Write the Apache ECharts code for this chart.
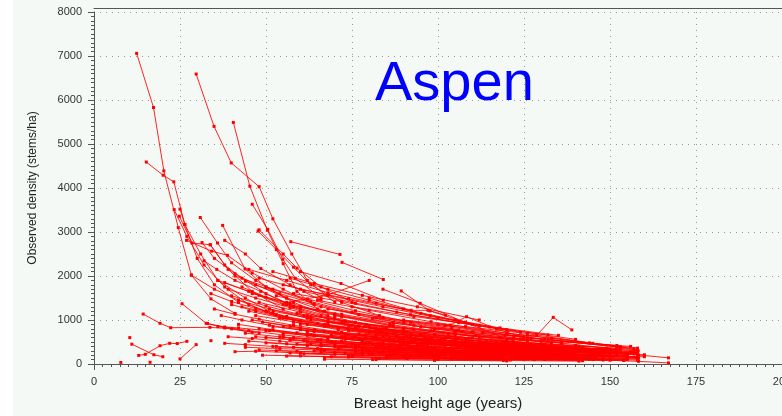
<!DOCTYPE html>
<html>
<head>
<meta charset="utf-8">
<title>Aspen</title>
<script src="https://cdn.jsdelivr.net/npm/echarts@6/dist/echarts.min.js"></script>
<style>
  html, body { margin: 0; padding: 0; background: #f4f9f5; }
  #chart { width: 782px; height: 416px; }
</style>
</head>
<body>
<div id="chart"></div>
<script>
// Remeasured aspen stands: each stand is a list of [breast height age (years), density (stems/ha)]

// Young, very dense stands thinning steeply
const steepStands = [
  [[12.4,7060],[17.3,5830],[20.3,4390],[24.5,3100],[28.3,2020],[34,1480],[41,1150]],
  [[15.2,4590],[20.1,4290],[23.2,4140],[26.4,3170],[30,2400],[35,1800],[42,1400]],
  [[29.7,6590],[34.9,5400],[39.9,4570],[48,4030],[52,3300],[57.5,2500],[62,1900],[70,1400]],
  [[40.5,5490],[45.3,4040],[50.4,3040],[55,2280],[59,1650],[65,1250]],
  [[46,3630],[50.5,3060],[54.9,2380],[58.5,1950],[66,1500]],
  [[25.0,3520],[26.4,3170],[31,2500],[36,1900],[44,1500],[52,1150],[62,900]],
  [[26.9,2810],[34.2,2565],[38.8,2470],[46,2070],[55,1700],[64,1350]],
  [[28.3,2020],[35,1700],[42,1450],[50,1200],[60,980]],
  [[30.9,3330],[35.9,2750],[40,2300],[47,1900],[56,1500]],
  [[37.4,3150],[43.9,2160],[50,1750],[58,1400],[68,1100]],
  [[38,2810],[44,2500],[48.5,2170],[57,1800],[66,1450]],
  [[33.8,2710],[38,2250],[43,1950],[50,1600],[60,1250]],
  [[32,2345],[35.7,2150],[41,1900],[48.5,1650],[58,1300]],
  [[31.4,2760],[35,2400],[41,2050],[47,1800],[56,1500],[67,1200]],
  [[47.7,3020],[53,2600],[58,2200],[63,1800],[72,1400],[83,1100]],
  [[48,3050],[55,2500],[59,2180],[66,1750],[76,1380]],
  [[23.3,3510],[27,2900],[32,2250],[38,1750],[45,1350],[54,1050]],
  [[24.8,3360],[28.5,2750],[33.8,2710],[39,2150],[46,1650],[55,1250]]
];

// Stands starting between roughly 1500 and 2800 stems/ha
const upperStands = [
  [[57.2,2780],[71.5,2490]],
  [[72.1,2310],[84.1,1920]],
  [[56,1400],[68.1,1570],[80,1900]],
  [[60,2100],[71.8,1830],[84.1,1450]],
  [[89.3,1660],[97.7,1205],[108,950]],
  [[80,1500],[92.2,1220],[97.1,1220],[102.2,1110]],
  [[84,1700],[94.8,1380],[108,940],[121.9,510]],
  [[96,700],[103.5,885],[108.3,1075],[117,795],[125,600]],
  [[105,750],[119.5,650],[128.7,650],[133.5,1060],[138.9,775]],
  [[100,900],[120,700],[133,590],[152.9,395],[158.2,300]],
  [[45,2150],[56,1900],[68,1620],[82,1380],[97.7,1100],[110,900]],
  [[48,1950],[60,1700],[74,1480],[90,1250],[105,1000],[120,780]],
  [[52,2100],[64,1830],[78,1560],[94,1300],[112,1000]],
  [[55,1800],[68,1560],[84,1300],[100,1050],[118,820],[135,650]],
  [[58,1600],[72,1420],[88,1180],[106,940],[124,720]],
  [[90,1000],[108,850],[126,690],[145,470],[158,360]],
  [[95,850],[113,720],[132,560],[152,420]],
  [[36,1900],[45,1650],[55,1350],[66,1100],[80,850],[95,650]],
  [[41,2000],[52,1700],[63,1420],[75,1180],[90,950],[106,760]],
  [[44,1880],[54,1600],[64,1370],[77,1120],[93,880]],
  [[50,1750],[62,1480],[76,1210],[92,950],[110,730]],
  [[57,1950],[68,1700],[80,1450],[95,1150],[112,880]],
  [[43,1750],[50,1520],[60,1290],[72,1070],[87,860]]
];

// The main body of stands below about 1600 stems/ha
const cloudStands = [
  [[38,1850],[48,1560],[58,1300],[70,1050],[85,820]],
  [[39,1700],[47,1500],[57,1280],[68,1020],[82,780],[98,600]],
  [[40,1550],[50,1320],[61,1100],[74,880],[90,700]],
  [[42,1450],[51,1250],[62,1040],[76,830],[92,640]],
  [[43,1300],[53,1120],[65,920],[80,720],[97,560],[115,430]],
  [[45,1200],[55,1040],[67,860],[82,680],[100,520]],
  [[46,1600],[57,1380],[70,1120],[86,880],[103,690],[120,540]],
  [[47,1100],[58,960],[71,780],[88,610],[106,470]],
  [[48,1400],[60,1180],[73,960],[90,740],[108,580]],
  [[49,950],[60,820],[74,660],[92,500],[110,380],[128,290]],
  [[51,1250],[63,1060],[77,860],[95,660],[114,500]],
  [[52,850],[64,740],[79,600],[97,460],[116,350]],
  [[53,1550],[66,1300],[81,1040],[99,800],[118,600],[136,470]],
  [[54,1050],[67,900],[83,720],[102,550],[122,420]],
  [[55,700],[68,600],[84,480],[104,370],[124,280]],
  [[56,1350],[70,1140],[86,900],[105,690],[126,520]],
  [[58,600],[72,520],[89,420],[110,320],[132,240]],
  [[59,1150],[73,980],[90,780],[110,590],[131,440]],
  [[60,900],[74,780],[91,620],[112,470],[134,350]],
  [[61,1650],[75,1400],[92,1120],[112,860],[132,660]],
  [[62,500],[76,430],[94,350],[116,270],[140,200]],
  [[63,1000],[77,860],[95,690],[117,520],[140,390]],
  [[64,780],[79,660],[97,530],[120,400],[143,300]],
  [[65,1450],[80,1220],[98,960],[120,700],[144,480]],
  [[66,420],[82,360],[101,290],[124,220],[150,160]],
  [[67,880],[83,750],[102,600],[125,450],[150,330]],
  [[68,1250],[84,1060],[104,830],[127,590],[152,400]],
  [[69,650],[86,550],[106,440],[130,330],[155,240]],
  [[70,1100],[87,930],[107,740],[131,560],[157,350]],
  [[71,350],[88,300],[109,240],[134,180]],
  [[72,960],[90,810],[111,640],[136,480]],
  [[73,560],[91,470],[112,380],[138,280]],
  [[74,760],[92,640],[114,510],[140,380]],
  [[75,1300],[93,1080],[115,840],[140,560]],
  [[76,280],[95,240],[118,190],[144,140]],
  [[77,680],[96,570],[119,450],[146,330]],
  [[78,480],[97,400],[121,320],[148,240]],
  [[79,900],[98,760],[122,600],[149,360]],
  [[80,230],[100,190],[124,150],[150,110]],
  [[81,600],[101,500],[125,400],[152,300]],
  [[82,1050],[102,880],[126,600],[153,380]],
  [[83,380],[104,320],[128,250],[155,190]],
  [[84,800],[105,670],[130,530],[156,400]],
  [[85,180],[106,150],[131,120],[158,90]],
  [[86,520],[107,440],[132,350],[158,260]],
  [[34,1600],[40,1420],[47,1260],[56,1080],[68,900],[84,720]],
  [[35,1250],[41,1130],[48,1020],[58,880],[72,720]],
  [[37,1100],[43,1000],[51,880],[62,750],[76,620]],
  [[40,1350],[47,1200],[56,1040],[68,870],[83,710]],
  [[60,1300],[72,1130],[87,930],[105,740],[124,570]],
  [[52,1200],[62,1050],[75,880],[90,710],[108,560]],
  [[68,950],[82,820],[99,670],[119,520],[141,400]],
  [[76,860],[91,730],[109,590],[130,460],[152,350]],
  [[85,700],[101,590],[120,480],[142,370]],
  [[103,620],[120,520],[140,420],[158,330]],
  [[112,490],[130,410],[150,330]],
  [[120,420],[138,350],[157,280]],
  [[58,950],[71,830],[87,690],[105,560],[125,440]],
  [[62,1100],[76,950],[93,780],[112,620],[133,480]],
  [[48,800],[59,710],[73,600],[90,490],[109,390]],
  [[47,620],[57,560],[70,480],[86,400],[104,330]]
];

// Lower-density stands near the bottom of the range
const lowStands = [
  [[41,280],[47,290],[60,250],[78,210],[100,170]],
  [[38,470],[44,440],[52,400],[66,340],[84,280]],
  [[36,850],[42,820],[50,760],[62,650],[78,530]],
  [[33,920],[38,840],[45,760],[55,660],[68,560]],
  [[39,620],[46,580],[54,520],[66,450],[82,380]],
  [[42,900],[52,780],[64,650],[78,520],[95,410]],
  [[44,700],[55,610],[68,510],[84,410],[102,320]],
  [[45,520],[56,460],[70,390],[86,320],[105,250]],
  [[46,1000],[57,860],[70,720],[86,580],[104,450]],
  [[48,320],[59,290],[73,250],[90,210],[110,170]],
  [[50,600],[61,530],[75,450],[92,370],[112,290]],
  [[53,400],[65,350],[80,300],[98,240],[118,190]],
  [[55,850],[67,740],[82,610],[100,490],[120,380]],
  [[57,250],[70,220],[86,190],[105,150],[126,120]],
  [[59,450],[72,390],[88,330],[107,270],[128,210]],
  [[62,700],[75,600],[91,500],[110,400],[131,310]],
  [[64,300],[78,260],[95,220],[115,180],[137,140]],
  [[65,550],[79,470],[96,390],[116,310],[138,240]],
  [[67,150],[82,130],[100,110],[121,90]],
  [[70,420],[85,360],[103,300],[124,240],[147,190]],
  [[72,620],[87,530],[105,440],[126,350],[148,270]],
  [[74,200],[90,170],[109,140],[131,110],[154,80]],
  [[78,340],[94,290],[113,240],[135,190],[158,150]],
  [[80,480],[96,410],[115,340],[137,270],[160,210]],
  [[83,130],[100,115],[120,95],[142,75]],
  [[88,260],[104,220],[123,180],[145,140]],
  [[90,560],[106,470],[125,380],[147,300]],
  [[92,360],[108,300],[128,250],[150,200]],
  [[95,160],[112,140],[132,120],[155,100]],
  [[98,450],[115,380],[135,310],[157,250]],
  [[100,280],[117,240],[137,200],[158,160]],
  [[105,210],[123,180],[143,150]],
  [[108,380],[126,320],[146,260]],
  [[110,120],[128,105],[148,90]],
  [[115,300],[132,250],[152,210]],
  [[118,180],[136,150],[155,125]],
  [[123,250],[140,210],[158,170]],
  [[120,420],[140,300],[158.3,205],[167,140]],
  [[115,260],[145,100],[158.3,60],[167,25]],
  [[105,500],[130,380],[150,270],[158.3,130]],
  [[50,480],[62,420],[76,360],[93,300],[112,240],[132,190]],
  [[51,760],[63,660],[77,560],[94,460],[113,370]],
  [[53,300],[66,270],[81,230],[99,190],[119,150]],
  [[54,620],[66,550],[81,460],[99,380],[118,300],[138,240]],
  [[56,180],[69,165],[85,145],[104,120],[125,100]],
  [[57,540],[70,470],[86,400],[104,330],[124,260],[145,210]],
  [[58,380],[71,340],[87,290],[106,240],[127,200]],
  [[60,780],[73,680],[89,570],[108,460],[129,370],[150,290]],
  [[61,230],[75,200],[92,175],[111,145],[133,120]],
  [[63,460],[77,400],[94,340],[114,280],[136,220]],
  [[64,640],[78,560],[95,470],[115,390],[137,310],[157,250]],
  [[66,330],[80,290],[97,250],[117,210],[139,170]],
  [[67,110],[81,100],[99,85],[120,70]],
  [[69,500],[84,440],[102,370],[122,300],[144,240]],
  [[70,260],[86,230],[104,195],[125,160],[148,130]],
  [[72,720],[88,620],[107,510],[128,410],[150,330]],
  [[73,400],[89,350],[108,290],[129,240],[152,190]],
  [[75,170],[91,150],[110,130],[131,105],[154,85]],
  [[77,580],[93,500],[112,420],[134,340],[156,270]],
  [[79,300],[95,260],[114,220],[136,180],[158,145]],
  [[81,440],[97,380],[117,320],[139,260],[158,215]],
  [[82,100],[99,90],[119,80],[141,65]],
  [[84,640],[100,550],[120,450],[142,360],[158,300]],
  [[86,340],[102,300],[122,250],[144,200]],
  [[87,210],[104,185],[124,155],[146,125]],
  [[89,470],[106,410],[126,340],[148,280]],
  [[91,130],[108,115],[128,100],[150,85]],
  [[93,560],[110,480],[130,400],[152,320]],
  [[96,300],[113,260],[133,220],[155,180]],
  [[99,390],[116,340],[136,280],[157,230]],
  [[102,200],[119,175],[139,150],[158,125]],
  [[104,520],[121,450],[141,370],[158,310]],
  [[107,140],[124,125],[144,105]],
  [[110,340],[127,295],[147,245]],
  [[113,240],[131,210],[151,175]],
  [[117,450],[134,390],[153,320]],
  [[121,150],[138,130],[158,110]],
  [[125,320],[142,280],[158,240]],
  [[128,220],[145,190],[160,165]],
  [[44,380],[54,350],[67,310],[83,260],[101,210]],
  [[49,200],[60,185],[74,160],[91,135],[110,110]]
];

// Stands first measured at young breast height ages
const youngStands = [
  [[14.3,1135],[19.2,925],[22.3,825],[33.7,833],[40,800],[48,700]],
  [[25.6,1370],[32.6,925],[38,820],[46,720]],
  [[11,450],[17.4,210],[20,165]],
  [[13,195],[14.9,220],[19.2,415],[22,470],[24.2,465],[27,515]],
  [[25,115],[29.7,440]],
  [[10.4,600]],
  [[7.8,35]],
  [[16.3,40]],
  [[34,530]]
];

const xTicks = { min: 0, max: 200, step: 25 };
const yTicks = { min: 0, max: 8000, step: 1000 };

const standGroups = [steepStands, upperStands, cloudStands, lowStands, youngStands];
const series = [];
standGroups.forEach(group => {
  group.forEach(stand => {
    series.push({
      type: 'line',
      data: stand,
      symbol: 'rect',
      symbolSize: 3,
      showSymbol: true,
      silent: true,
      lineStyle: { color: '#ff0000', width: 1, opacity: 0.85 },
      itemStyle: { color: '#ff0000' },
      emphasis: { disabled: true }
    });
  });
});

const axisColor = '#555555';
const labelFont = { fontFamily: 'Liberation Sans, Arial, sans-serif', fontSize: 11, color: '#333333' };

const chart = echarts.init(document.getElementById('chart'), null, { renderer: 'canvas' });
chart.setOption({
  animation: false,
  backgroundColor: '#f4f9f5',
  title: {
    text: 'Aspen',
    left: 370,
    top: 52,
    textStyle: { fontFamily: 'Liberation Sans, Arial, sans-serif', fontSize: 56, fontWeight: 'normal', color: '#0000ff' }
  },
  graphic: [{
    type: 'rect',
    left: 0, top: 0,
    shape: { width: 13, height: 416 },
    style: { fill: '#ffffff' },
    silent: true
  }],
  grid: { left: 94, right: 0, top: 12, bottom: 52, containLabel: false, outerBoundsMode: 'none' },
  xAxis: [{
    type: 'value',
    min: xTicks.min, max: xTicks.max, interval: xTicks.step,
    offset: 4,
    name: 'Breast height age (years)',
    nameLocation: 'middle',
    nameGap: 28,
    nameTextStyle: { fontFamily: 'Liberation Sans, Arial, sans-serif', fontSize: 15, color: '#222222' },
    axisLine: { show: true, lineStyle: { color: axisColor, width: 1 } },
    axisTick: { show: true, length: 6, lineStyle: { color: axisColor } },
    minorTick: { show: true, splitNumber: 10, length: 3, lineStyle: { color: axisColor } },
    axisLabel: Object.assign({ margin: 8, showMaxLabel: true, hideOverlap: false }, labelFont),
    splitLine: { show: true, lineStyle: { color: '#9a9a9a', type: [1, 5], width: 1 } }
  }, {
    type: 'value',
    position: 'top',
    min: xTicks.min, max: xTicks.max,
    offset: 4,
    axisLine: { show: true, lineStyle: { color: axisColor, width: 1 } },
    axisTick: { show: false },
    axisLabel: { show: false },
    splitLine: { show: false }
  }],
  yAxis: {
    type: 'value',
    min: yTicks.min, max: yTicks.max, interval: yTicks.step,
    offset: 4,
    name: 'Observed density (stems/ha)',
    nameLocation: 'middle',
    nameGap: 51,
    nameTextStyle: { fontFamily: 'Liberation Sans, Arial, sans-serif', fontSize: 12, color: '#222222' },
    axisLine: { show: true, lineStyle: { color: axisColor, width: 1 } },
    axisTick: { show: true, length: 6, lineStyle: { color: axisColor } },
    minorTick: { show: true, splitNumber: 10, length: 3, lineStyle: { color: axisColor } },
    axisLabel: Object.assign({ margin: 8, formatter: v => String(v) }, labelFont),
    splitLine: { show: true, lineStyle: { color: '#9a9a9a', type: [1, 5], width: 1 } }
  },
  series: series
});
</script>
</body>
</html>
